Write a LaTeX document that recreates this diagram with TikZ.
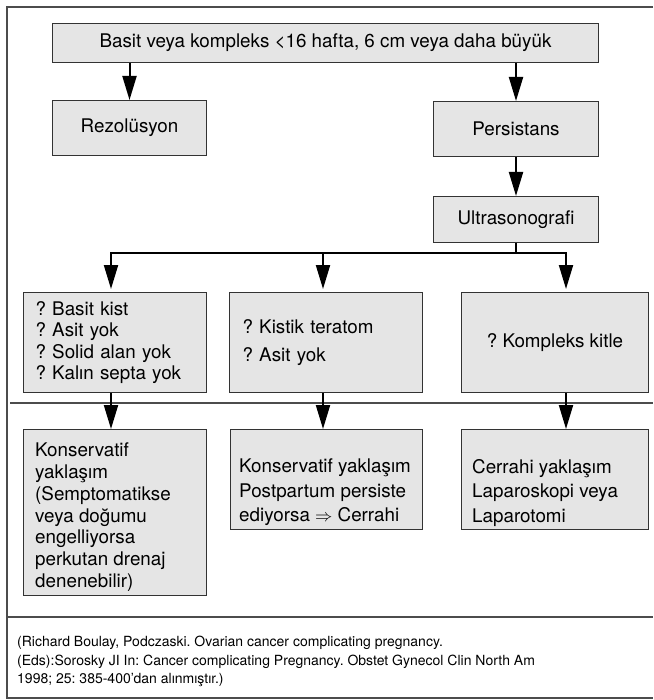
\documentclass[tikz,border=0pt]{standalone}
\usepackage{fontspec}
\setmainfont{TeX Gyre Heros}
\usetikzlibrary{arrows.meta}
\frenchspacing
\tikzset{
  kutu/.style={draw=black!80, fill=gray!20, line width=1pt, inner sep=0pt, anchor=north west},
  ok/.style={line width=2pt, -{Triangle[length=24pt,width=14pt]}},
  cizgi/.style={draw=black!70, line width=1.5pt},
}
\begin{document}
\begin{tikzpicture}[x=1pt, y=-1pt, font=\fontsize{18.8}{21.5}\selectfont]
\useasboundingbox (0,0) rectangle (653,700);
% Çerçeve
\draw[cizgi] (653,7) -- (7,7) -- (7,698) -- (653,698);
\draw[cizgi] (10,403) -- (653,403);
\draw[cizgi] (7,617) -- (653,617);
% Üst kutular
\node[kutu, minimum width=546pt, minimum height=39pt] (ust) at (52,23)
  {Basit veya kompleks <16 hafta, 6 cm veya daha büyük};
\node[kutu, minimum width=154pt, minimum height=55pt] (rez) at (52,100) {Rezolüsyon};
\node[kutu, minimum width=165pt, minimum height=55pt] (per) at (433,101) {Persistans};
\node[kutu, minimum width=165pt, minimum height=46pt] (ult) at (433,196) {Ultrasonografi};
% Bulgular
\node[kutu, minimum width=183pt, minimum height=100pt, inner xsep=12pt, text width=159pt,
  align=left, font=\fontsize{18.8}{21.3}\selectfont] (k1) at (23,292)
  {? Basit kist\\? Asit yok\\? Solid alan yok\\? Kalın septa yok};
\node[kutu, minimum width=193pt, minimum height=100pt, inner xsep=13pt, text width=167pt,
  align=left, font=\fontsize{18.8}{28}\selectfont] (k2) at (229,292)
  {? Kistik teratom\\? Asit yok};
\node[kutu, minimum width=187pt, minimum height=100pt] (k3) at (461,292) {? Kompleks kitle};
% Yaklaşımlar
\node[kutu, minimum width=183pt, minimum height=166pt] (s1) at (23,429) {};
\node[anchor=north west, inner sep=0pt, align=left, font=\fontsize{18.8}{21.7}\selectfont]
  (s1y) at (35,443) {Konservatif\\yaklaşım\\(Semptomatikse\\veya doğumu\\engelliyorsa\\perkutan drenaj\\denenebilir)};
\node[kutu, minimum width=192pt, minimum height=100pt] (s2) at (230,429) {};
\node[anchor=north west, inner sep=0pt, align=left, font=\fontsize{18.8}{24.5}\selectfont]
  (s2y) at (239,459) {Konservatif yaklaşım\\Postpartum persiste\\ediyorsa $\Rightarrow$ Cerrahi};
\node[kutu, minimum width=187pt, minimum height=100pt] (s3) at (461,429) {};
\node[anchor=north west, inner sep=0pt, align=left, font=\fontsize{18.8}{24.5}\selectfont]
  (s3y) at (472,459) {Cerrahi yaklaşım\\Laparoskopi veya\\Laparotomi};
% Kaynak
\node[anchor=north west, inner sep=0pt, align=left, font=\fontsize{14}{18.5}\selectfont]
  (kaynak) at (17,636) {(Richard Boulay, Podczaski. Ovarian cancer complicating pregnancy.\\
  (Eds):Sorosky JI In: Cancer complicating Pregnancy. Obstet Gynecol Clin North Am\\
  1998; 25: 385-400'dan alınmıştır.)};
% Oklar
\coordinate (a1) at (111,253);
\coordinate (a2) at (323,253);
\coordinate (a3) at (566,253);
\draw[ok] (ust.south -| rez.north) -- (rez.north);
\draw[ok] (ust.south -| per.north) -- (per.north);
\draw[ok] (per) -- (ult);
\draw[ok, shorten >=3pt] (ult.south) |- (a1) -- (a1 |- k1.north);
\draw[ok, shorten >=3pt] (ult.south) |- (a2) -- (a2 |- k2.north);
\draw[ok, shorten >=3pt] (ult.south) |- (a3) -- (a3 |- k3.north);
\draw[ok] (a1 |- k1.south) -- (a1 |- s1.north);
\draw[ok] (a2 |- k2.south) -- (a2 |- s2.north);
\draw[ok] (a3 |- k3.south) -- (a3 |- s3.north);
\end{tikzpicture}
\end{document}
